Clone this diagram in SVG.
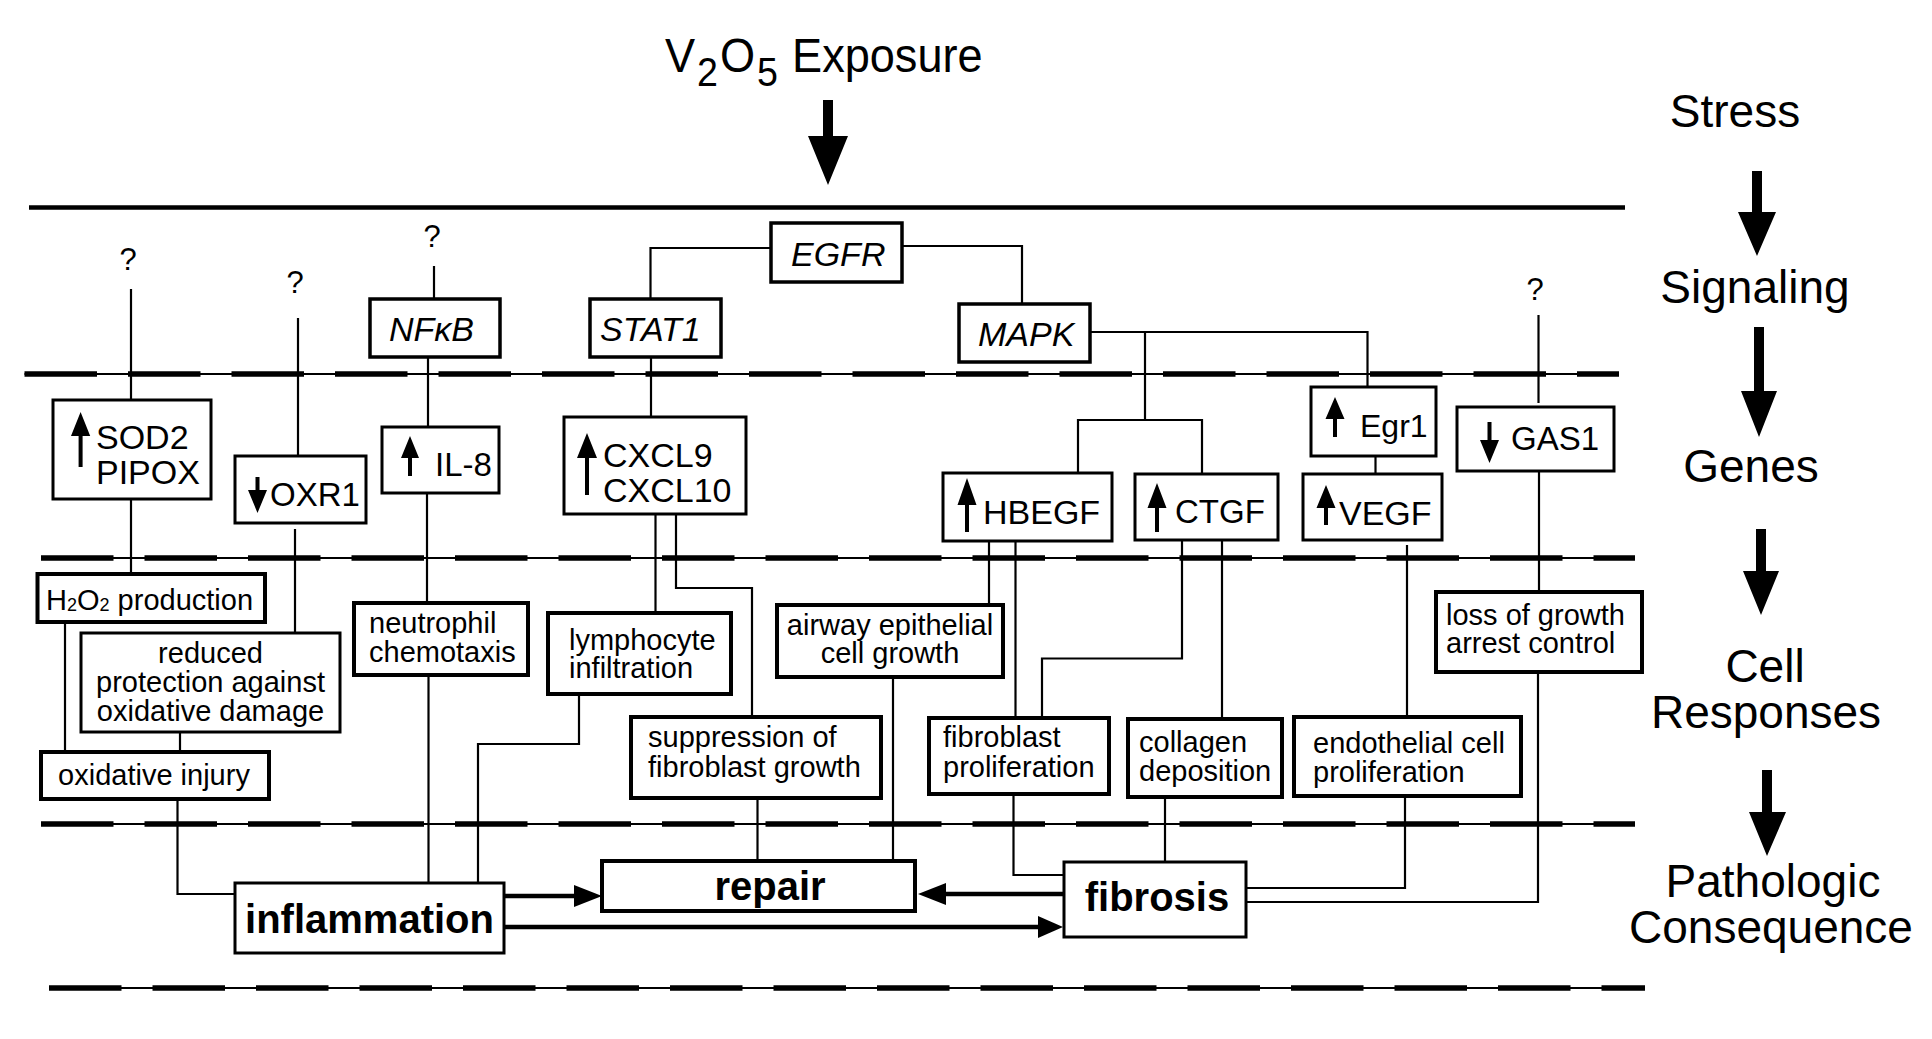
<svg xmlns="http://www.w3.org/2000/svg" width="1932" height="1039" viewBox="0 0 1932 1039">
<style>
text{font-family:"Liberation Sans",Arial,Helvetica,sans-serif;fill:#000}
.ln{stroke:#000;stroke-width:2.2;fill:none}
.ar{stroke:#000;stroke-width:4.5;fill:none}
.box{fill:#fff;stroke:#000;stroke-width:3}
.bx4{stroke-width:4}
.g{font-size:34px}
.s{font-size:29px}
.b{font-size:40px;font-weight:bold}
.i{font-style:italic}
.q{font-size:31px;text-anchor:middle}
.lab{font-size:46px;text-anchor:middle}
.thin{stroke:#000;stroke-width:2}
.dash{stroke:#000;stroke-width:5.5;stroke-dasharray:72.5 31}
.blk{fill:#000;stroke:none}
</style>
<rect width="1932" height="1039" fill="#fff"/>

<g id="title">
<text transform="scale(0.94 1)" x="707.4" y="72" style="font-size:48px">V<tspan x="741.5" y="86.5" style="font-size:40px">2</tspan><tspan x="766" y="72">O</tspan><tspan x="805.3" y="86.5" style="font-size:40px">5</tspan><tspan x="842.6" y="72">Exposure</tspan></text>
<path class="blk" d="M823,100H833V136H848L828,185L808,136H823Z"/>
</g>

<g id="bands">
<line x1="29" y1="207.5" x2="1625" y2="207.5" stroke="#000" stroke-width="4.5"/>
<line class="thin" x1="24.5" y1="374" x2="1619" y2="374"/>
<line class="dash" x1="24.5" y1="374" x2="1619" y2="374"/>
<line class="thin" x1="41" y1="558" x2="1635" y2="558"/>
<line class="dash" x1="41" y1="558" x2="1635" y2="558"/>
<line class="thin" x1="41" y1="824" x2="1635" y2="824"/>
<line class="dash" x1="41" y1="824" x2="1635" y2="824"/>
<line class="thin" x1="49" y1="988" x2="1645" y2="988"/>
<line class="dash" x1="49" y1="988" x2="1645" y2="988"/>
</g>

<g id="levels">
<text class="lab" x="1735" y="127">Stress</text>
<path class="blk" d="M1752,171H1762V212H1776L1757,256L1738,212H1752Z"/>
<text class="lab" x="1755" y="303">Signaling</text>
<path class="blk" d="M1754,327H1764V391H1777L1759,437L1741,391H1754Z"/>
<text class="lab" x="1751" y="482">Genes</text>
<path class="blk" d="M1756,529H1766V571H1779L1761,615L1743,571H1756Z"/>
<text class="lab" x="1765" y="682">Cell</text>
<text class="lab" x="1766" y="728">Responses</text>
<path class="blk" d="M1762,770H1772V812H1786L1767,856L1749,812H1762Z"/>
<text class="lab" x="1773" y="897">Pathologic</text>
<text class="lab" x="1771" y="943">Consequence</text>
</g>

<g id="unknowns">
<text class="q" x="128" y="270">?</text>
<text class="q" x="295" y="293">?</text>
<text class="q" x="432" y="247">?</text>
<text class="q" x="1535" y="300">?</text>
</g>

<g id="connectors">
<polyline class="ln" points="131,289 131,400"/>
<polyline class="ln" points="131,499 131,574"/>
<polyline class="ln" points="65,622 65,752"/>
<polyline class="ln" points="298,318 298,456"/>
<polyline class="ln" points="295,529 295,633"/>
<polyline class="ln" points="180,732 180,752"/>
<polyline class="ln" points="177.5,799 177.5,894 235,894"/>
<polyline class="ln" points="434,266 434,299"/>
<polyline class="ln" points="428,357 428,427"/>
<polyline class="ln" points="427,493 427,603"/>
<polyline class="ln" points="428.5,675 428.5,883"/>
<polyline class="ln" points="772,248 650.5,248 650.5,299"/>
<polyline class="ln" points="651,357 651,417"/>
<polyline class="ln" points="655.5,514 655.5,613"/>
<polyline class="ln" points="676,514 676,588 752,588 752,717"/>
<polyline class="ln" points="579,694 579,744 478,744 478,883"/>
<polyline class="ln" points="757.5,798 757.5,861"/>
<polyline class="ln" points="893,677 893,861"/>
<polyline class="ln" points="902,246 1022,246 1022,304"/>
<polyline class="ln" points="1090,332 1367.5,332 1367.5,387"/>
<polyline class="ln" points="1145,332 1145,420"/>
<polyline class="ln" points="1078,473 1078,420 1202,420 1202,474"/>
<polyline class="ln" points="1375.5,456 1375.5,474"/>
<polyline class="ln" points="989,541 989,605"/>
<polyline class="ln" points="1015.5,541 1015.5,718"/>
<polyline class="ln" points="1182,540 1182,658.5 1042,658.5 1042,718"/>
<polyline class="ln" points="1222,540 1222,719"/>
<polyline class="ln" points="1407,545 1407,717"/>
<polyline class="ln" points="1538.5,315 1538.5,403"/>
<polyline class="ln" points="1539,471 1539,592"/>
<polyline class="ln" points="1013.5,794 1013.5,875 1064,875"/>
<polyline class="ln" points="1165,797 1165,862"/>
<polyline class="ln" points="1405,796 1405,888 1246,888"/>
<polyline class="ln" points="1538,672 1538,902 1246,902"/>
<line class="ar" x1="504" y1="896" x2="576" y2="896"/>
<path class="blk" d="M574,885L602,896L574,907Z"/>
<line class="ar" x1="504" y1="927" x2="1040" y2="927"/>
<path class="blk" d="M1038,916L1063,927L1038,938Z"/>
<line class="ar" x1="1064" y1="894" x2="944" y2="894"/>
<path class="blk" d="M946,883L918,894L946,905Z"/>
</g>

<g id="EGFR"><rect class="box" x="771" y="223" width="131" height="59" style="stroke-width:3.5"/><text class="g i" x="791" y="266">EGFR</text></g>
<g id="NFkB"><rect class="box" x="370" y="299" width="130" height="58" style="stroke-width:3.5"/><text class="g i" x="389" y="341">NFκB</text></g>
<g id="STAT1"><rect class="box" x="590" y="299" width="131" height="58" style="stroke-width:3.5"/><text class="g i" x="600" y="341">STAT1</text></g>
<g id="MAPK"><rect class="box" x="959" y="304" width="131" height="58" style="stroke-width:3.5"/><text class="g i" x="978" y="346">MAPK</text></g>

<g id="SOD2"><rect class="box" x="53" y="400" width="158" height="99"/><path class="blk" d="M78.6,467V436H71L80.6,412L90.2,436H82.6V467Z"/><text class="g" x="96" y="449">SOD2</text><text class="g" x="96" y="484">PIPOX</text></g>
<g id="OXR1"><rect class="box" x="235" y="456" width="131" height="67"/><path class="blk" d="M255.5,477H259.5V490H267L257.5,513L248,490H255.5Z"/><text class="g" x="270" y="506" style="font-size:33px">OXR1</text></g>
<g id="IL8"><rect class="box" x="382" y="427" width="117" height="66"/><path class="blk" d="M408,476V458H401L410,436L419,458H412V476Z"/><text class="g" x="435" y="476" style="font-size:33px">IL-8</text></g>
<g id="CXCL"><rect class="box" x="564" y="417" width="182" height="97"/><path class="blk" d="M585,495V458H577L587,433L597,458H589V495Z"/><text class="g" x="603" y="467">CXCL9</text><text class="g" x="603" y="502">CXCL10</text></g>
<g id="HBEGF"><rect class="box" x="943" y="473" width="169" height="68"/><path class="blk" d="M965,532V505H957.5L967,478L976.5,505H969V532Z"/><text class="g" x="983" y="524">HBEGF</text></g>
<g id="CTGF"><rect class="box" x="1135" y="474" width="143" height="66"/><path class="blk" d="M1155,532V508H1147.5L1157,483L1166.5,508H1159V532Z"/><text class="g" x="1175" y="523" style="font-size:33px">CTGF</text></g>
<g id="VEGF"><rect class="box" x="1303" y="474" width="139" height="66"/><path class="blk" d="M1324,525V508H1316.5L1326,485L1335.5,508H1328V525Z"/><text class="g" x="1339" y="525">VEGF</text></g>
<g id="Egr1"><rect class="box" x="1311" y="387" width="125" height="69"/><path class="blk" d="M1333,437V419H1325.5L1335,397L1344.5,419H1337V437Z"/><text class="g" x="1360" y="437" style="font-size:32px">Egr1</text></g>
<g id="GAS1"><rect class="box" x="1457" y="407" width="157" height="64"/><path class="blk" d="M1487.5,422H1491.5V440H1499L1489.5,463L1480,440H1487.5Z"/><text class="g" x="1511" y="450" style="font-size:33px">GAS1</text></g>

<g id="H2O2"><rect class="box bx4" x="37.5" y="574" width="227.5" height="48"/><text class="s" x="46" y="610">H<tspan style="font-size:18px" dy="1">2</tspan><tspan dy="-1">O</tspan><tspan style="font-size:18px" dy="1">2</tspan><tspan dy="-1"> production</tspan></text></g>
<g id="reduced"><rect class="box" x="81" y="633" width="259" height="99"/><text class="s" x="210.5" y="663" text-anchor="middle">reduced</text><text class="s" x="210.5" y="692" text-anchor="middle">protection against</text><text class="s" x="210.5" y="721" text-anchor="middle">oxidative damage</text></g>
<g id="oxinj"><rect class="box bx4" x="41" y="752" width="228" height="47"/><text class="s" x="154" y="785" text-anchor="middle">oxidative injury</text></g>
<g id="neutro"><rect class="box bx4" x="354" y="603" width="174" height="72"/><text class="s" x="369" y="633">neutrophil</text><text class="s" x="369" y="662">chemotaxis</text></g>
<g id="lympho"><rect class="box bx4" x="548" y="613" width="183" height="81"/><text class="s" x="569" y="650">lymphocyte</text><text class="s" x="569" y="678">infiltration</text></g>
<g id="airway"><rect class="box bx4" x="777" y="605" width="226" height="72"/><text class="s" x="890" y="635" text-anchor="middle">airway epithelial</text><text class="s" x="890" y="663" text-anchor="middle">cell growth</text></g>
<g id="suppr"><rect class="box bx4" x="631" y="717" width="250" height="81"/><text class="s" x="648" y="747">suppression of</text><text class="s" x="648" y="777">fibroblast growth</text></g>
<g id="fibprol"><rect class="box bx4" x="929" y="718" width="180" height="76"/><text class="s" x="943" y="747">fibroblast</text><text class="s" x="943" y="777">proliferation</text></g>
<g id="collagen"><rect class="box bx4" x="1128" y="719" width="154" height="78"/><text class="s" x="1139" y="752">collagen</text><text class="s" x="1139" y="781">deposition</text></g>
<g id="endo"><rect class="box bx4" x="1294" y="717" width="227" height="79"/><text class="s" x="1313" y="753">endothelial cell</text><text class="s" x="1313" y="782">proliferation</text></g>
<g id="loss"><rect class="box bx4" x="1436" y="592" width="206" height="80"/><text class="s" x="1446" y="625">loss of growth</text><text class="s" x="1446" y="653">arrest control</text></g>

<g id="inflammation"><rect class="box" x="235" y="883" width="269" height="70"/><text class="b" x="369.5" y="933" text-anchor="middle">inflammation</text></g>
<g id="repair"><rect class="box bx4" x="602" y="861" width="313" height="50"/><text class="b" x="770" y="900" text-anchor="middle">repair</text></g>
<g id="fibrosis"><rect class="box" x="1064" y="862" width="182" height="75"/><text class="b" x="1157" y="911" text-anchor="middle">fibrosis</text></g>
</svg>
